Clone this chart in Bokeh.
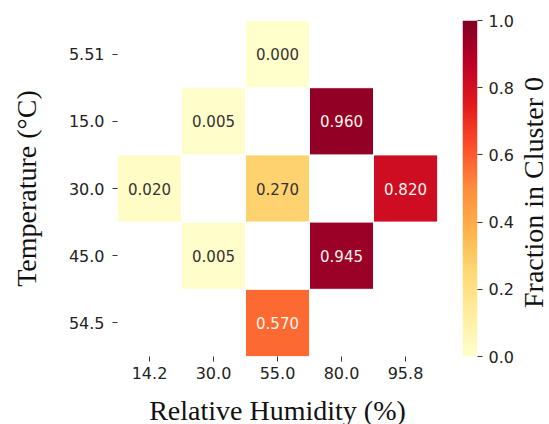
import numpy as np
from bokeh.plotting import figure
from bokeh.models import (ColumnDataSource, FactorRange, Range1d, LinearColorMapper,
                          FixedTicker, PrintfTickFormatter, Label)
from bokeh.layouts import row
from bokeh.embed import file_html
from bokeh.resources import INLINE
from bokeh.core.properties import value

# ---- data ----
rh_labels = ["14.2", "30.0", "55.0", "80.0", "95.8"]
temp_labels = ["5.51", "15.0", "30.0", "45.0", "54.5"]
cell_rh = ["55.0", "30.0", "80.0", "14.2", "55.0", "95.8", "30.0", "80.0", "55.0"]
cell_temp = ["5.51", "15.0", "15.0", "30.0", "30.0", "30.0", "45.0", "45.0", "54.5"]
fraction = [0.000, 0.005, 0.960, 0.020, 0.270, 0.820, 0.005, 0.945, 0.570]
cbar_ticks = [0.0, 0.2, 0.4, 0.6, 0.8, 1.0]

# ---- YlOrRd colormap (matplotlib anchors), interpolated ----
anchors = ['#ffffcc', '#ffeda0', '#fed976', '#feb24c', '#fd8d3c',
           '#fc4e2a', '#e31a1c', '#bd0026', '#800026']
def hex2rgb(h):
    return [int(h[i:i + 2], 16) for i in (1, 3, 5)]
arr = np.array([hex2rgb(h) for h in anchors], dtype=float)
pos = np.linspace(0, 1, len(anchors))
t = np.linspace(0, 1, 256)
palette = []
for v in t:
    rgb = [np.interp(v, pos, arr[:, k]) for k in range(3)]
    palette.append('#%02x%02x%02x' % tuple(int(round(c)) for c in rgb))
mapper = LinearColorMapper(palette=palette, low=0, high=1)

src = ColumnDataSource(dict(
    rh=cell_rh, temp=cell_temp, frac=fraction,
    label=["%.3f" % f for f in fraction],
    tcol=["#fff4ee" if f > 0.5 else "#333333" for f in fraction],
))

TICK_FONT = "DejaVu Sans"
SERIF = "Liberation Serif"
TOP, FH, BOTTOM = 20, 336, 68

p = figure(x_range=FactorRange(factors=rh_labels),
           y_range=FactorRange(factors=list(reversed(temp_labels))),
           frame_width=320, frame_height=FH,
           min_border_left=117, min_border_right=25, min_border_top=TOP, min_border_bottom=BOTTOM,
           toolbar_location=None, output_backend="svg", outline_line_color=None)
p.rect(x="rh", y="temp", width=1, height=1, source=src,
       fill_color={"field": "frac", "transform": mapper},
       line_color="white", line_width=1)
p.text(x="rh", y="temp", text="label", source=src, text_color="tcol",
       text_align="center", text_baseline="middle", text_font_size="15px",
       text_font=value(TICK_FONT))
p.grid.visible = False
for ax in (p.xaxis[0], p.yaxis[0]):
    ax.axis_line_color = None
    ax.major_tick_in = 0
    ax.major_tick_out = 5
    ax.major_tick_line_color = "#333333"
    ax.major_label_text_font = TICK_FONT
    ax.major_label_text_font_size = "16px"
    ax.major_label_text_color = "#222222"
    ax.axis_label_text_font = SERIF
    ax.axis_label_text_font_size = "28px"
    ax.axis_label_text_font_style = "normal"
    ax.axis_label_text_color = "#111111"
p.xaxis.axis_label = "Relative Humidity (%)"
p.yaxis.axis_label = "Temperature (°C)"
p.xaxis.major_label_standoff = 5
p.yaxis.major_label_standoff = 8
p.xaxis.axis_label_standoff = 13
p.yaxis.axis_label_standoff = 24

# ---- colorbar figure ----
cb = figure(x_range=Range1d(0, 1), y_range=Range1d(0, 1),
            frame_width=15, frame_height=FH,
            min_border_left=0, min_border_right=42, min_border_top=TOP, min_border_bottom=BOTTOM,
            x_axis_location=None, y_axis_location="right",
            toolbar_location=None, output_backend="svg", outline_line_color=None)
cb.image(image=[np.linspace(0, 1, 256).reshape(256, 1)], x=0, y=0, dw=1, dh=1,
         color_mapper=mapper)
cb.grid.visible = False
ay = cb.yaxis[0]
ay.ticker = FixedTicker(ticks=cbar_ticks)
ay.formatter = PrintfTickFormatter(format="%.1f")
ay.axis_line_color = None
ay.major_tick_in = 0
ay.major_tick_out = 5
ay.minor_tick_line_color = None
ay.major_tick_line_color = "#333333"
ay.major_label_text_font = TICK_FONT
ay.major_label_text_font_size = "16px"
ay.major_label_text_color = "#222222"
ay.major_label_standoff = 6

# ---- colorbar title (reads bottom-to-top) ----
tf = figure(x_range=Range1d(0, 30), y_range=Range1d(0, FH),
            frame_width=30, frame_height=FH,
            min_border_left=0, min_border_right=0, min_border_top=TOP, min_border_bottom=BOTTOM,
            x_axis_location=None, y_axis_location=None,
            toolbar_location=None, output_backend="svg", outline_line_color=None)
tf.grid.visible = False
tf.add_layout(Label(x=14, y=FH - 172, text="Fraction in Cluster 0", angle=90, angle_units="deg",
                    text_align="center", text_baseline="middle",
                    text_font=SERIF, text_font_size="28px", text_color="#111111"))

layout = row(p, cb, tf)
open("out.html", "w").write(file_html(layout, INLINE))
